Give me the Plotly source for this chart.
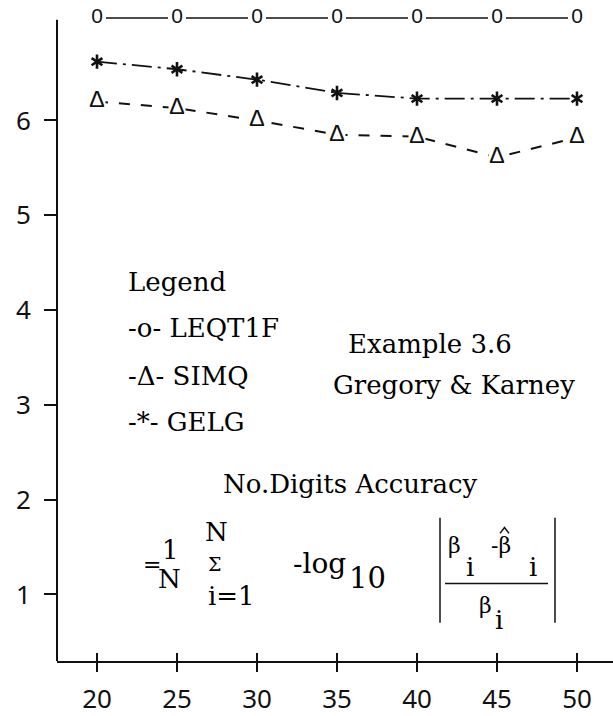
import plotly.graph_objects as go

# ---------------- data ----------------
n_values = [20, 25, 30, 35, 40, 45, 50]
leqt1f = [7.08, 7.08, 7.08, 7.08, 7.08, 7.08, 7.08]
simq = [6.20, 6.13, 6.00, 5.85, 5.83, 5.61, 5.82]
gelg = [6.62, 6.54, 6.43, 6.29, 6.23, 6.23, 6.23]
series_names = ["LEQT1F", "SIMQ", "GELG"]
series_glyphs = ["o", "Δ", "*"]
x_tick_vals = [20, 25, 30, 35, 40, 45, 50]
y_tick_vals = [1, 2, 3, 4, 5, 6]

# ---------------- layout geometry ----------------
W, H = 613, 716
ML, MR, MT, MB = 57, 0, 8, 43
X_RANGE = [17.5, 52.25]
Y_RANGE = [0.2975, 7.186]
Y_AXIS_TOP = 7.061

TYPE = "DejaVu Serif, Liberation Serif, serif"
GLYPH = "Liberation Sans, Arial, sans-serif"
SANS = "Noto Sans, Open Sans, DejaVu Sans, sans-serif"
INK = "#111111"
TEXT_INK = "#000000"


def px(x):
    return (x - ML) / (W - ML - MR)


def py(y):
    return (H - MB - y) / (H - MT - MB)


fig = go.Figure()

# LEQT1F: solid line with "o" glyphs
fig.add_trace(go.Scatter(
    x=n_values, y=leqt1f, name=series_names[0], mode="lines+markers+text",
    line=dict(color=INK, width=1.5, dash="solid"),
    marker=dict(symbol="square", size=18, color="white", line=dict(width=0)),
    text=["0"] * len(n_values), textposition="middle center",
    textfont=dict(family=GLYPH, size=21, color=INK),
    cliponaxis=False, showlegend=False, hoverinfo="x+y"))

# SIMQ: dashed line with triangle glyphs
fig.add_trace(go.Scatter(
    x=n_values, y=simq, name=series_names[1], mode="lines+markers+text",
    line=dict(color=INK, width=2, dash="11px,11px"),
    marker=dict(symbol="square", size=17, color="white", line=dict(width=0)),
    text=["Δ"] * len(n_values), textposition="middle center",
    textfont=dict(family="Liberation Mono, monospace", size=24, color=INK),
    cliponaxis=False, showlegend=False, hoverinfo="x+y"))

# GELG: dash-dot line with asterisks (two overlaid 3-arm symbols)
fig.add_trace(go.Scatter(
    x=n_values, y=gelg, name=series_names[2], mode="lines+markers",
    line=dict(color=INK, width=1.8, dash="20px,6px,3px,6px"),
    marker=dict(symbol="y-up-open", size=9, color=INK, line=dict(width=2.6, color=INK)),
    cliponaxis=False, showlegend=False, hoverinfo="x+y"))
fig.add_trace(go.Scatter(
    x=n_values, y=gelg, name=series_names[2], mode="markers",
    marker=dict(symbol="y-down-open", size=9, color=INK, line=dict(width=2.6, color=INK)),
    cliponaxis=False, showlegend=False, hoverinfo="skip"))

# helper trace so the overlay axis (inner half of crossing x ticks) is drawn
fig.add_trace(go.Scatter(x=[None], y=[None], xaxis="x2", yaxis="y",
                         showlegend=False, hoverinfo="skip"))

fig.update_layout(
    width=W, height=H,
    margin=dict(l=ML, r=MR, t=MT, b=MB, pad=0),
    paper_bgcolor="white", plot_bgcolor="white",
    showlegend=False,
    xaxis=dict(range=X_RANGE, tickmode="array", tickvals=x_tick_vals,
               ticktext=[str(v) for v in x_tick_vals],
               ticks="outside", ticklen=9, tickwidth=2, tickcolor=INK,
               showline=True, linecolor=INK, linewidth=2,
               showgrid=False, zeroline=False, ticklabelstandoff=5,
               tickfont=dict(family=SANS, size=26, color=INK)),
    xaxis2=dict(range=X_RANGE, overlaying="x", anchor="y", side="bottom",
                tickmode="array", tickvals=x_tick_vals,
                ticks="inside", ticklen=8, tickwidth=2, tickcolor=INK,
                showticklabels=False, showline=False, showgrid=False, zeroline=False),
    yaxis=dict(range=Y_RANGE, tickmode="array", tickvals=y_tick_vals,
               ticktext=[str(v) for v in y_tick_vals],
               ticks="outside", ticklen=12, tickwidth=1.6, tickcolor=INK,
               showline=False, showgrid=False, zeroline=False,
               ticklabelstandoff=8,
               tickfont=dict(family=SANS, size=26, color=INK)),
)

# y axis line (stops a little below the top row of circles)
fig.add_shape(type="line", xref="paper", yref="y", x0=0, x1=0,
              y0=Y_RANGE[0], y1=Y_AXIS_TOP, line=dict(color=INK, width=2))


def note(text, x, y, size=26, family=TYPE, xanchor="left"):
    fig.add_annotation(text=text, x=px(x), y=py(y), xref="paper", yref="paper",
                       xanchor=xanchor, yanchor="middle", showarrow=False,
                       font=dict(family=family, size=size, color=TEXT_INK))


# typed legend
note("Legend", 126, 287)
legend_y = [334, 383, 430]
for name, glyph, yy in zip(series_names, series_glyphs, legend_y):
    note("-" + glyph + "- " + name, 126, yy)

# example caption
note("Example 3.6", 346, 350)
note("Gregory &amp; Karney", 331, 392)

# formula
note("No.Digits Accuracy", 221, 493)
note("=", 141, 575, size=22)
note("1", 160, 560)
note("N", 156, 590)
note("N", 203, 542)
note("Σ", 206, 574, size=19)
note("i=1", 206, 607)
note("-log", 291, 574, size=28)
note("10", 347, 588, size=29)
note("β", 446, 555, size=22)
note("i", 464, 577)
note("-β", 489, 555, size=22)
note("i", 527, 577)
note("β", 477, 616, size=22)
note("i", 493, 631)

# hat over the second beta (drawn as a small caret)
fig.add_shape(type="path", xref="paper", yref="paper",
              path="M {:.5f},{:.5f} L {:.5f},{:.5f} L {:.5f},{:.5f}".format(
                  px(500), py(543), px(504.5), py(537), px(509), py(543)),
              line=dict(color=INK, width=1.5))

# absolute-value bars and fraction bar
fig.add_shape(type="line", xref="paper", yref="paper", x0=px(440), x1=px(440),
              y0=py(527), y1=py(634), line=dict(color=INK, width=1.5))
fig.add_shape(type="line", xref="paper", yref="paper", x0=px(555), x1=px(555),
              y0=py(527), y1=py(634), line=dict(color=INK, width=1.5))
fig.add_shape(type="line", xref="paper", yref="paper", x0=px(445), x1=px(548),
              y0=py(594), y1=py(594), line=dict(color=INK, width=1.5))

fig.write_html("out.html", config={"displayModeBar": False},
               post_script="document.body.style.margin='0';")
